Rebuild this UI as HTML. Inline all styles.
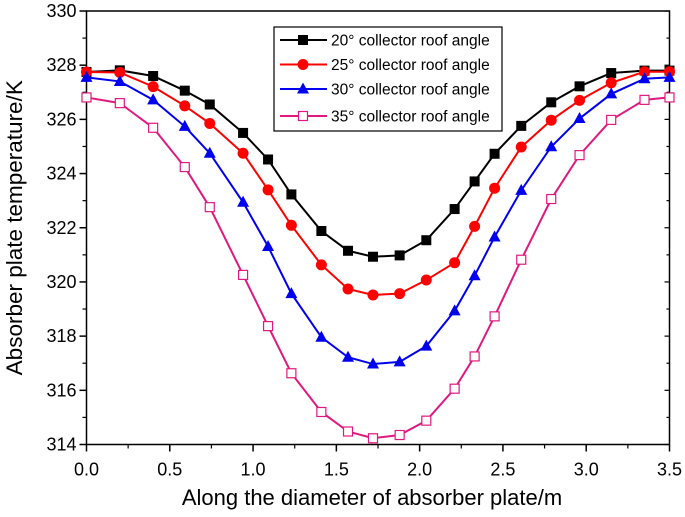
<!DOCTYPE html>
<html><head><meta charset="utf-8"><style>
body{margin:0;background:#fff;}
svg{display:block;font-family:"Liberation Sans",Arial,sans-serif;}
</style></head><body>
<svg id="chart" width="685" height="517"></svg>
<script>
const xValues=[0,0.20,0.40,0.59,0.74,0.94,1.09,1.23,1.41,1.57,1.72,1.88,2.04,2.21,2.33,2.45,2.61,2.79,2.96,3.15,3.35,3.5];
const s20=[327.75,327.81,327.6,327.06,326.55,325.5,324.52,323.23,321.88,321.15,320.93,320.98,321.54,322.69,323.71,324.73,325.76,326.63,327.22,327.71,327.8,327.8];
const s25=[327.75,327.73,327.21,326.5,325.85,324.75,323.4,322.09,320.63,319.74,319.52,319.57,320.07,320.71,322.05,323.46,324.98,325.97,326.7,327.35,327.76,327.76];
const s30=[327.55,327.4,326.72,325.74,324.75,322.94,321.31,319.57,317.96,317.22,316.97,317.05,317.63,318.93,320.23,321.66,323.38,324.99,326.03,326.94,327.5,327.55];
const s35=[326.81,326.6,325.69,324.24,322.76,320.26,318.37,316.63,315.2,314.48,314.23,314.35,314.88,316.06,317.25,318.73,320.82,323.06,324.68,325.98,326.72,326.81];
const seriesLabels=["20° collector roof angle","25° collector roof angle","30° collector roof angle","35° collector roof angle"];
const xTicks=["0.0","0.5","1.0","1.5","2.0","2.5","3.0","3.5"];
const yTicks=["314","316","318","320","322","324","326","328","330"];

const NS="http://www.w3.org/2000/svg";
const svg=document.getElementById('chart');
const L=86.5,R=669.5,T=11,B=444.5;
const sx=v=>L+(v-0)/(3.5-0)*(R-L);
const sy=v=>B-(v-314)/(330-314)*(B-T);
function mk(tag,attrs,parent){const e=document.createElementNS(NS,tag);for(const k in attrs)e.setAttribute(k,attrs[k]);(parent||svg).appendChild(e);return e;}

const frame=mk('rect',{x:L,y:T,width:R-L,height:B-T,fill:'none',stroke:'#000','stroke-width':1.5});



xTicks.forEach((t,i)=>{
  const v=parseFloat(t),x=sx(v);
  mk('line',{x1:x,y1:B,x2:x,y2:B+7,stroke:'#000','stroke-width':1.5});
  if(i<xTicks.length-1){const xm=sx(v+0.25);mk('line',{x1:xm,y1:B,x2:xm,y2:B+4,stroke:'#000','stroke-width':1.2});}
  const tx=mk('text',{x:x,y:B+31,'font-size':18,'text-anchor':'middle',fill:'#000'});
  tx.textContent=t;
  
  
});
yTicks.forEach((t,i)=>{
  const v=parseFloat(t),y=sy(v);
  mk('line',{x1:L-7,y1:y,x2:L,y2:y,stroke:'#000','stroke-width':1.5});
  mk('line',{x1:R-5,y1:y,x2:R,y2:y,stroke:'#000','stroke-width':1.2});
  if(i<yTicks.length-1){const ym=sy(v+1);mk('line',{x1:L-4,y1:ym,x2:L,y2:ym,stroke:'#000','stroke-width':1.2});mk('line',{x1:R-3,y1:ym,x2:R,y2:ym,stroke:'#000','stroke-width':1.2});}
  const ty=mk('text',{x:L-10,y:y+6,'font-size':18,'text-anchor':'end',fill:'#000'});
  ty.textContent=t;
  
  
});
const xt=mk('text',{x:(L+R)/2-6,y:505,'font-size':22,'text-anchor':'middle',fill:'#000'});
xt.textContent='Along the diameter of absorber plate/m';


const yt=mk('text',{x:0,y:0,'font-size':22.5,'text-anchor':'middle',fill:'#000',transform:'translate(22,'+((T+B)/2)+') rotate(-90)'});
yt.textContent='Absorber plate temperature/K';



const series=[s20,s25,s30,s35];
const colors=['#000','#f00','#0000f0','#e0197f'];
const shapes=['square','circle','triangle','opensquare'];
function marker(g,shape,x,y,c){
  if(shape==='square')mk('rect',{x:x-5,y:y-5,width:10,height:10,fill:c},g);
  else if(shape==='circle')mk('circle',{cx:x,cy:y,r:5.5,fill:c},g);
  else if(shape==='triangle')mk('polygon',{points:`${x},${y-6.5} ${x-6},${y+4.5} ${x+6},${y+4.5}`,fill:c},g);
  else mk('rect',{x:x-4.5,y:y-4.5,width:9,height:9,fill:'#fff',stroke:c,'stroke-width':1.2},g);
}
series.forEach((s,k)=>{
  const g=mk('g',{});
  
  
  const pts=s.map((v,i)=>sx(xValues[i])+','+sy(v)).join(' ');
  mk('polyline',{points:pts,fill:'none',stroke:colors[k],'stroke-width':2},g);
  s.forEach((v,i)=>marker(g,shapes[k],sx(xValues[i]),sy(v),colors[k]));
});

const lg=mk('g',{});


mk('rect',{x:274,y:27,width:228,height:104,fill:'#fff',stroke:'#000','stroke-width':1.2},lg);
const ly=[40,64.5,89,116];
seriesLabels.forEach((lab,k)=>{
  const e=mk('g',{},lg);
  
  
  mk('line',{x1:280,y1:ly[k],x2:327,y2:ly[k],stroke:colors[k],'stroke-width':2},e);
  marker(e,shapes[k],303,ly[k],colors[k]);
  const t=mk('text',{x:331,y:ly[k]+5.5,'font-size':15.5,fill:'#000'},e);
  t.textContent=lab;
});
</script>
</body></html>
